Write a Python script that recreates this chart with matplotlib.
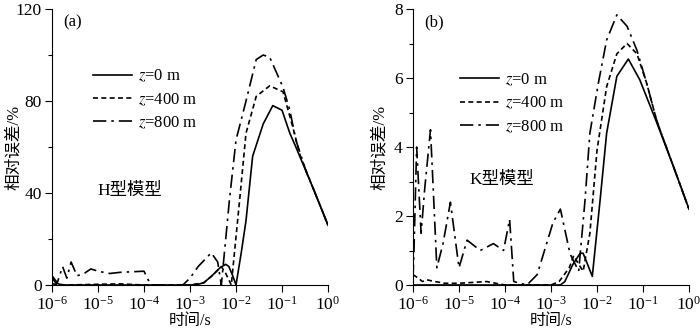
import numpy as np
import matplotlib
matplotlib.use('Agg')
import matplotlib.pyplot as plt
from matplotlib.ticker import LogLocator, MultipleLocator, NullLocator

plt.rcParams['font.family'] = ['Liberation Serif', 'Noto Sans CJK SC']
plt.rcParams['mathtext.fontset'] = 'stix'
plt.rcParams['font.size'] = 12
plt.rcParams['axes.spines.top'] = False
plt.rcParams['axes.spines.right'] = False

# ---- panel (a): H-type model ----
a_t0 = [1e-6, 1.2e-6, 1.5e-6, 2e-6, 1e-5, 1e-4, 1e-3, 1.5e-3, 2e-3, 3e-3, 4.5e-3, 6e-3, 7e-3,
        8.5e-3, 1e-2, 1.3e-2, 1.65e-2, 2.3e-2, 3.9e-2, 6.3e-2, 0.1, 0.148, 0.2, 0.34, 0.5, 1.0]
a_v0 = [3, 1, 0.2, 0, 0, 0, 0, 0.3, 1, 4, 7.5, 9, 8,
        4, 0, 14, 28, 56, 70, 78, 76, 66, 60, 49, 41, 26]

a_t1 = [1e-6, 2e-6, 1e-5, 3e-5, 1e-4, 1e-3, 2e-3, 3e-3, 4.8e-3, 6e-3, 7.9e-3, 1.2e-2,
        1.65e-2, 2.75e-2, 5.4e-2, 0.105, 0.17, 0.25, 0.5, 1.0]
a_v1 = [0.5, 0, 0.3, 0.5, 0, 0, 1, 4, 8, 5, 0, 37,
        66, 82, 86.6, 84, 69, 56, 41, 26]

a_t2 = [1e-6, 1.3e-6, 1.7e-6, 2.1e-6, 2.6e-6, 3.5e-6, 5e-6, 7e-6, 1e-5, 1.8e-5, 3e-5, 1e-4,
        1.4e-4, 3e-4, 7e-4, 1e-3, 1.5e-3, 2.9e-3, 4e-3, 4.8e-3, 7.2e-3, 1e-2, 1.65e-2,
        2.75e-2, 3.9e-2, 5.4e-2, 0.105, 0.148, 0.2, 0.34, 0.5, 1.0]
a_v2 = [4, 1, 8, 3, 10, 4, 5, 7, 6, 5, 5.5, 6,
        0, 0, 0, 3, 8, 14, 10, 0, 37, 63, 80,
        98, 100, 99, 86, 76, 63, 49, 41, 26]

# ---- panel (b): K-type model ----
b_t0 = [1e-6, 1e-5, 1e-4, 1e-3, 1.6e-3, 2e-3, 3e-3, 4.3e-3, 5e-3, 7.9e-3, 1.17e-2, 1.62e-2,
        2.7e-2, 4.8e-2, 8.5e-2, 0.2, 0.46, 1.0]
b_v0 = [0, 0, 0, 0, 0, 0.1, 0.6, 0.92, 0.92, 0.25, 2.47, 4.4,
        6.05, 6.55, 5.95, 4.7, 3.43, 2.2]

b_t1 = [1e-6, 1.3e-6, 1.6e-6, 2e-6, 3e-6, 5e-6, 1e-5, 4e-5, 1e-4, 1e-3, 1.5e-3, 2.5e-3,
        3.1e-3, 4e-3, 5e-3, 7e-3, 1e-2, 1.62e-2, 2.7e-2, 4.5e-2, 7.4e-2, 0.12, 0.2, 0.46, 1.0]
b_v1 = [0.3, 0.2, 0.1, 0.15, 0.1, 0.05, 0.05, 0.1, 0, 0, 0.1, 0.5,
        0.85, 0.6, 0.4, 1.5, 3.9, 5.75, 6.7, 7.0, 6.7, 5.85, 4.75, 3.43, 2.2]

b_t2 = [1e-6, 1.05e-6, 1.2e-6, 1.5e-6, 1.8e-6, 2.4e-6, 3.3e-6, 4.5e-6, 6.5e-6, 1e-5, 1.5e-5,
        2.9e-5, 5.6e-5, 9.3e-5, 1.26e-4, 1.55e-4, 3e-4, 5e-4, 1.1e-3, 1.6e-3, 2.6e-3, 4e-3,
        5.5e-3, 7e-3, 1.07e-2, 1.62e-2, 2.7e-2, 4.5e-2, 7.4e-2, 0.12, 0.2, 0.46, 1.0]
b_v2 = [0.2, 1.0, 4.0, 1.5, 2.8, 4.5, 0.5, 1.2, 2.4, 0.5, 1.3,
        1.0, 1.2, 1.0, 1.9, 0.1, 0, 0.3, 1.8, 2.2, 0.9, 0.4,
        2.47, 4.4, 5.85, 7.1, 7.83, 7.5, 6.8, 5.85, 4.75, 3.43, 2.2]

labels = ['$z$=0 m', '$z$=400 m', '$z$=800 m']
styles = [dict(ls='-'), dict(ls=(0, (3, 2))), dict(ls=(0, (8, 3, 1.5, 3)))]

fig = plt.figure(figsize=(7, 3.3), dpi=100)
ax_a = fig.add_axes([52 / 700, 45 / 330, 276 / 700, 276 / 330])
ax_b = fig.add_axes([413 / 700, 45 / 330, 276 / 700, 276 / 330])

panels = [
    (ax_a, [(a_t0, a_v0), (a_t1, a_v1), (a_t2, a_v2)], 120, 40, 20, '(a)', 'H型模型',
     (0.165, 0.34), (0.149, 0.786), -0.109),
    (ax_b, [(b_t0, b_v0), (b_t1, b_v1), (b_t2, b_v2)], 8, 2, 1, '(b)', 'K型模型',
     (0.205, 0.38), (0.170, 0.772), -0.09),
]

for ax, series, ymax, major, minor, tag, name, name_xy, leg_xy, ylab_x in panels:
    for (t, v), lab, st in zip(series, labels, styles):
        ax.plot(t, v, color='black', lw=1.2, label=lab, **st)
    ax.set_xscale('log')
    ax.set_xlim(1e-6, 1)
    ax.set_ylim(0, ymax)
    ax.xaxis.set_major_locator(LogLocator(base=10, numticks=10))
    ax.xaxis.set_minor_locator(NullLocator())
    ax.yaxis.set_major_locator(MultipleLocator(major))
    ax.yaxis.set_minor_locator(MultipleLocator(minor))
    ax.tick_params(direction='out', length=5, width=0.8, labelsize=12.5, pad=2.5)
    ax.tick_params(which='minor', direction='out', length=3, width=0.8)
    ax.set_xlabel('时间/s', fontsize=11.5, labelpad=0)
    ax.set_ylabel('相对误差/%', fontsize=12)
    ax.yaxis.set_label_coords(ylab_x, 0.5)
    ax.text(0.04, 0.95, tag, transform=ax.transAxes, fontsize=12, va='center')
    ax.text(name_xy[0], name_xy[1], name, transform=ax.transAxes, fontsize=12.5, va='center')
    ax.legend(loc='upper left', bbox_to_anchor=leg_xy, frameon=False,
              borderpad=0, borderaxespad=0,
              handlelength=2.35, handletextpad=0.35, labelspacing=0.42, fontsize=12)

fig.savefig('out.png', dpi=100)
